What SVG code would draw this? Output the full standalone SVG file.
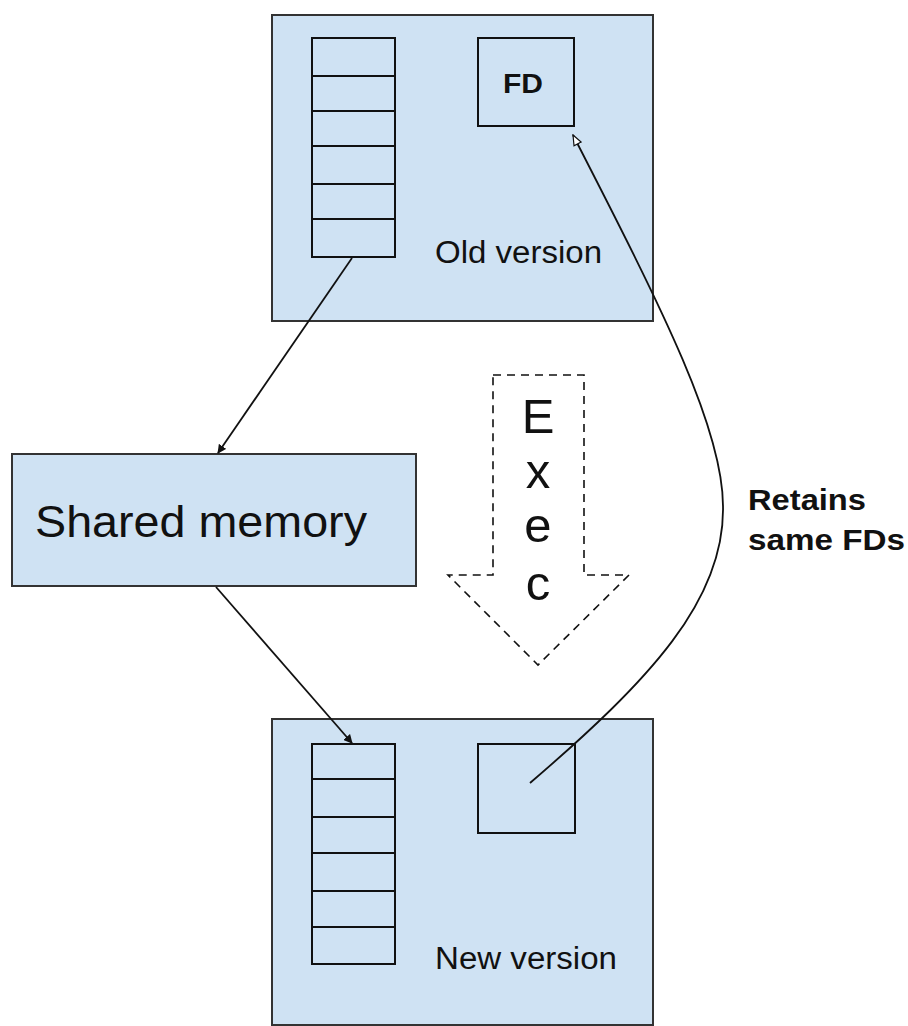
<svg xmlns="http://www.w3.org/2000/svg" width="908" height="1026" viewBox="0 0 908 1026">
<style>
.box{fill:#cfe2f3;stroke:#333;stroke-width:2}
.cell{fill:none;stroke:#111;stroke-width:2}
.t{font-family:"Liberation Sans",Arial,sans-serif;fill:#111}
.b{font-weight:bold}
.con{fill:none;stroke:#111;stroke-width:1.8}
.dash{fill:none;stroke:#111;stroke-width:1.6;stroke-dasharray:8,6}
</style>
<defs>
<marker id="fill" viewBox="0 0 10 10" refX="9" refY="5" markerWidth="9" markerHeight="9" markerUnits="userSpaceOnUse" orient="auto">
<path d="M0,0 L10,5 L0,10 Z" fill="#111"/>
</marker>
<marker id="open" viewBox="0 0 12 10" refX="11" refY="5" markerWidth="12" markerHeight="10" markerUnits="userSpaceOnUse" orient="auto">
<path d="M1,1 L11,5 L1,9 Z" fill="#fff" stroke="#111" stroke-width="1.2"/>
</marker>
</defs>
<g id="old-version">
<rect class="box" x="272" y="15" width="381" height="306"/>
<rect class="cell" x="312" y="38" width="83" height="219"/>
<path class="cell" d="M312,76H395M312,111H395M312,146H395M312,184H395M312,219H395"/>
<rect class="cell" x="478" y="38" width="96" height="88"/>
<text class="t b" x="523" y="93" font-size="28" text-anchor="middle" textLength="40" lengthAdjust="spacingAndGlyphs">FD</text>
<text class="t" x="435" y="263" font-size="31" textLength="167" lengthAdjust="spacingAndGlyphs">Old version</text>
</g>
<g id="shared-memory">
<rect class="box" x="12" y="454" width="404" height="132"/>
<text class="t" x="35" y="537" font-size="44" textLength="332" lengthAdjust="spacingAndGlyphs">Shared memory</text>
</g>
<g id="new-version">
<rect class="box" x="272" y="719" width="381" height="306"/>
<rect class="cell" x="312" y="744" width="83" height="220"/>
<path class="cell" d="M312,779H395M312,817H395M312,853H395M312,891H395M312,927H395"/>
<rect class="cell" x="478" y="744" width="97" height="89"/>
<text class="t" x="435" y="969" font-size="31" textLength="182" lengthAdjust="spacingAndGlyphs">New version</text>
</g>
<g id="exec">
<path class="dash" d="M493,375 H584 V575 H629 L538,665 L448,575 H493 Z"/>
<g class="t" font-size="49" text-anchor="middle">
<text x="538" y="433">E</text>
<text x="538" y="488">x</text>
<text x="538" y="542">e</text>
<text x="538" y="600">c</text>
</g>
</g>
<g id="retains-label">
<text class="t b" x="748" y="510" font-size="30" textLength="118" lengthAdjust="spacingAndGlyphs">Retains</text>
<text class="t b" x="748" y="550" font-size="30" textLength="157" lengthAdjust="spacingAndGlyphs">same FDs</text>
</g>
<g id="connectors">
<path class="con" d="M352,258 L218,453" marker-end="url(#fill)"/>
<path class="con" d="M216,587 L352,743" marker-end="url(#fill)"/>
<path class="con" d="M530,783 C650,680 725,600 723,506 C723,430 665,314 573,135" marker-end="url(#open)"/>
</g>
</svg>
